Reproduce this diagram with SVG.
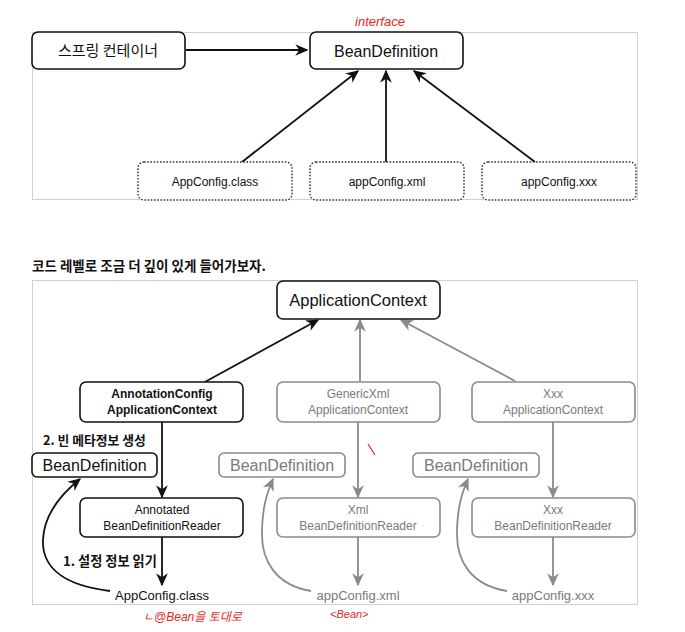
<svg xmlns="http://www.w3.org/2000/svg" width="685" height="632" viewBox="0 0 685 632">
  <style>
    .panel { fill: #ffffff; stroke: #d0d0d0; stroke-width: 1; }
    .box { fill: #ffffff; stroke: #111; stroke-width: 1.6; }
    .gbox { fill: #ffffff; stroke: #8a8a8a; stroke-width: 1.6; }
    .dbox { fill: #ffffff; stroke: #333; stroke-width: 1.4; stroke-dasharray: 1.6 1.6; }
    .t { font-family: "Liberation Sans", "Noto Sans CJK KR", sans-serif; fill: #111; text-anchor: middle; }
    .g { fill: #7a7a7a; }
    .b { font-weight: bold; }
    .k { font-family: "Noto Sans CJK KR", "Liberation Sans", sans-serif; }
    .red { font-family: "Liberation Sans", "Noto Sans CJK KR", sans-serif; fill: #e8271e; font-style: italic; }
    .ln { fill: none; stroke: #111; stroke-width: 1.8; }
    .gln { fill: none; stroke: #8a8a8a; stroke-width: 1.8; }
  </style>
  <defs>
    <marker id="ah" viewBox="0 0 10 10" refX="9" refY="5" markerWidth="13" markerHeight="13" markerUnits="userSpaceOnUse" orient="auto">
      <path d="M0,0.5 L10,5 L0,9.5 L3,5 z" fill="#111"/>
    </marker>
    <marker id="gah" viewBox="0 0 10 10" refX="9" refY="5" markerWidth="13" markerHeight="13" markerUnits="userSpaceOnUse" orient="auto">
      <path d="M0,0.5 L10,5 L0,9.5 L3,5 z" fill="#8a8a8a"/>
    </marker>
  </defs>

  <rect width="685" height="632" fill="#ffffff"/>

  <!-- upper panel -->
  <rect class="panel" x="32.5" y="32.5" width="605" height="167"/>
  <text class="red" x="380" y="26" font-size="13" text-anchor="middle">interface</text>

  <g id="connectors-top">
    <line class="ln" x1="186" y1="50" x2="307" y2="50" marker-end="url(#ah)"/>
    <line class="ln" x1="242" y1="162" x2="358" y2="71" marker-end="url(#ah)"/>
    <line class="ln" x1="386" y1="162" x2="386" y2="71" marker-end="url(#ah)"/>
    <line class="ln" x1="535" y1="162" x2="414" y2="71" marker-end="url(#ah)"/>
  </g>

  <g id="spring-container">
    <rect class="box" x="32" y="32" width="153" height="37" rx="6"/>
    <text class="t k" x="108" y="56" font-size="15">스프링 컨테이너</text>
  </g>
  <g id="bean-definition-top">
    <rect class="box" x="310" y="32" width="153" height="37" rx="6"/>
    <text class="t" x="386" y="57" font-size="16">BeanDefinition</text>
  </g>
  <g id="appconfig-class-top">
    <rect class="dbox" x="138" y="162" width="154" height="38" rx="6"/>
    <text class="t" x="215" y="186" font-size="12">AppConfig.class</text>
  </g>
  <g id="appconfig-xml-top">
    <rect class="dbox" x="310" y="162" width="154" height="38" rx="6"/>
    <text class="t" x="387" y="186" font-size="12">appConfig.xml</text>
  </g>
  <g id="appconfig-xxx-top">
    <rect class="dbox" x="482" y="162" width="154" height="38" rx="6"/>
    <text class="t" x="559" y="186" font-size="12">appConfig.xxx</text>
  </g>

  <!-- heading -->
  <text class="k b" x="32" y="271" font-size="13.5" fill="#111">코드 레벨로 조금 더 깊이 있게 들어가보자.</text>

  <!-- lower panel -->
  <rect class="panel" x="32.5" y="280.5" width="605" height="324"/>

  <g id="connectors-bottom">
    <line class="ln" x1="203" y1="383" x2="318" y2="320" marker-end="url(#ah)"/>
    <line class="gln" x1="360" y1="381" x2="360" y2="320" marker-end="url(#gah)"/>
    <line class="gln" x1="515" y1="381" x2="401" y2="320" marker-end="url(#gah)"/>
    <line class="ln" x1="162" y1="422" x2="162" y2="497" marker-end="url(#ah)"/>
    <line class="gln" x1="358" y1="422" x2="358" y2="497" marker-end="url(#gah)"/>
    <line class="gln" x1="553" y1="422" x2="553" y2="497" marker-end="url(#gah)"/>
    <line class="ln" x1="162" y1="537" x2="162" y2="585" marker-end="url(#ah)"/>
    <line class="gln" x1="358" y1="537" x2="358" y2="585" marker-end="url(#gah)"/>
    <line class="gln" x1="553" y1="537" x2="553" y2="585" marker-end="url(#gah)"/>
    <path class="ln" d="M110,591 C60,585 42,565 43,540 C44,515 60,495 80,479" marker-end="url(#ah)"/>
    <path class="gln" d="M311,591 C275,585 262,560 262,535 C262,510 266,495 273,479" marker-end="url(#gah)"/>
    <path class="gln" d="M507,591 C470,585 457,560 457,535 C457,510 461,495 468,479" marker-end="url(#gah)"/>
  </g>

  <g id="application-context">
    <rect class="box" x="277" y="281" width="163" height="38" rx="6"/>
    <text class="t" x="358" y="306" font-size="16.5">ApplicationContext</text>
  </g>

  <g id="annotation-config-context">
    <rect class="box" x="80" y="382" width="163" height="40" rx="6"/>
    <text class="t b" x="162" y="398" font-size="12">AnnotationConfig</text>
    <text class="t b" x="162" y="414" font-size="12">ApplicationContext</text>
  </g>
  <g id="generic-xml-context">
    <rect class="gbox" x="277" y="382" width="163" height="40" rx="6"/>
    <text class="t g" x="358" y="398" font-size="12">GenericXml</text>
    <text class="t g" x="358" y="414" font-size="12">ApplicationContext</text>
  </g>
  <g id="xxx-context">
    <rect class="gbox" x="472" y="382" width="163" height="40" rx="6"/>
    <text class="t g" x="553" y="398" font-size="12">Xxx</text>
    <text class="t g" x="553" y="414" font-size="12">ApplicationContext</text>
  </g>

  <text class="k b" x="43" y="445" font-size="12.8" fill="#111">2. 빈 메타정보 생성</text>

  <g id="bean-definition-1">
    <rect class="box" x="32" y="453" width="125" height="24" rx="5"/>
    <text class="t" x="94.5" y="471" font-size="16">BeanDefinition</text>
  </g>
  <g id="bean-definition-2">
    <rect class="gbox" x="219" y="453" width="126" height="24" rx="5"/>
    <text class="t g" x="282" y="471" font-size="16">BeanDefinition</text>
  </g>
  <g id="bean-definition-3">
    <rect class="gbox" x="413" y="453" width="126" height="24" rx="5"/>
    <text class="t g" x="476" y="471" font-size="16">BeanDefinition</text>
  </g>

  <path d="M368,444 L375,455" stroke="#e8271e" stroke-width="1.2" fill="none"/>

  <g id="annotated-reader">
    <rect class="box" x="80" y="498" width="163" height="39" rx="6"/>
    <text class="t" x="162" y="514" font-size="12">Annotated</text>
    <text class="t" x="162" y="530" font-size="12">BeanDefinitionReader</text>
  </g>
  <g id="xml-reader">
    <rect class="gbox" x="277" y="498" width="163" height="39" rx="6"/>
    <text class="t g" x="358" y="514" font-size="12">Xml</text>
    <text class="t g" x="358" y="530" font-size="12">BeanDefinitionReader</text>
  </g>
  <g id="xxx-reader">
    <rect class="gbox" x="472" y="498" width="163" height="39" rx="6"/>
    <text class="t g" x="553" y="514" font-size="12">Xxx</text>
    <text class="t g" x="553" y="530" font-size="12">BeanDefinitionReader</text>
  </g>

  <text class="k b" x="63" y="566" font-size="13.2" fill="#111">1. 설정 정보 읽기</text>

  <g id="appconfig-class">
    <text class="t" x="162" y="600" font-size="13">AppConfig.class</text>
  </g>
  <g id="appconfig-xml">
    <text class="t g" x="358" y="600" font-size="13">appConfig.xml</text>
  </g>
  <g id="appconfig-xxx">
    <text class="t g" x="553" y="600" font-size="13">appConfig.xxx</text>
  </g>

  <text class="red k" x="143" y="621" font-size="12">ㄴ@Bean을 토대로</text>
  <text class="red" x="330" y="618" font-size="11">&lt;Bean&gt;</text>
</svg>
